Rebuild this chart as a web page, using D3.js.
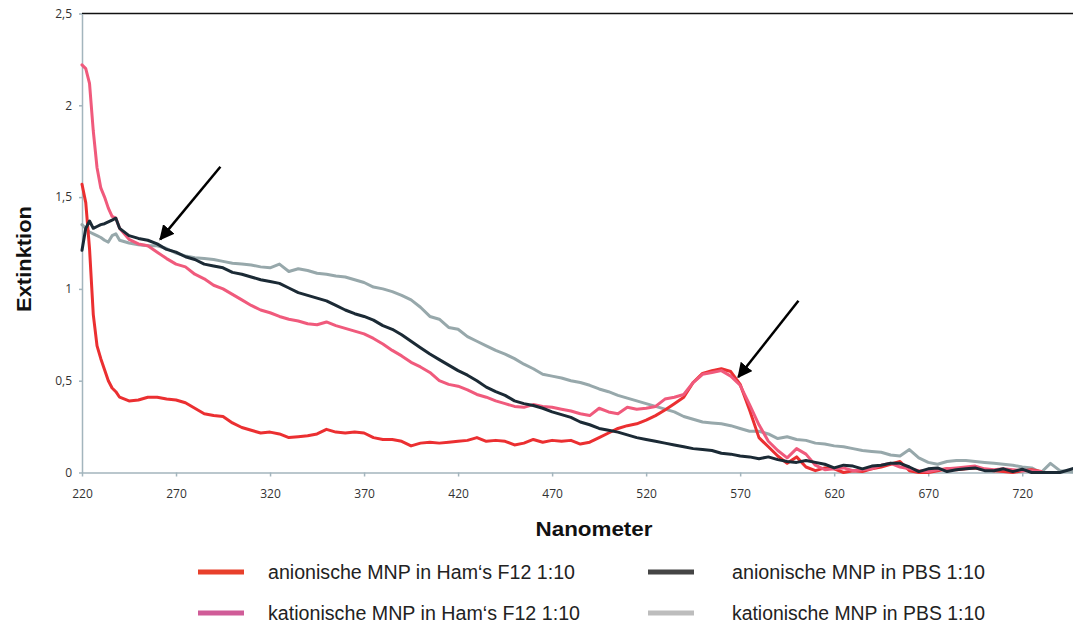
<!DOCTYPE html>
<html lang="de">
<head>
    <meta charset="utf-8">
    <title>Extinktion MNP</title>
    <script src="https://d3js.org/d3.v7.min.js"></script>
    <style>
        body{
            margin: 0;
            background-color: white;
        }
        svg{
            display: block;
        }
        .axis text{
            font-family: "Liberation Sans Narrow", "Open Sans", sans-serif;
            font-size: 12px;
            fill: #333;
        }
        .axis path, .axis line{
            stroke: #a3b5bd;
            stroke-width: 1.5;
        }
        .legend text{
            font-family: "Liberation Sans", Arial, sans-serif;
            font-size: 20px;
            fill: #222;
        }
    </style>
</head>
<body>
<div id="chart"></div>
<script>

// wavelengths in nm (denser at the start where the curves drop fast)
var wavelengths = [220, 222, 224, 226, 228, 230, 232, 234, 236, 238, 240,
    245, 250, 255, 260, 265, 270, 275, 280, 285, 290, 295, 300,
    305, 310, 315, 320, 325, 330, 335, 340, 345, 350, 355, 360, 365, 370, 375, 380, 385, 390, 395, 400,
    405, 410, 415, 420, 425, 430, 435, 440, 445, 450, 455, 460, 465, 470, 475, 480, 485, 490, 495, 500,
    505, 510, 515, 520, 525, 530, 535, 540, 545, 550, 555, 560, 565, 570, 575, 580, 585, 590, 595, 600,
    605, 610, 615, 620, 625, 630, 635, 640, 645, 650, 655, 660, 665, 670, 675, 680, 685, 690, 695, 700,
    705, 710, 715, 720, 725, 730, 735, 740, 745, 750];

// anionische MNP in Ham's F12 1:10
var anionHam = [1.57, 1.47, 1.22, 0.86, 0.69, 0.62, 0.56, 0.50, 0.46, 0.44, 0.41,
    0.39, 0.395, 0.41, 0.41, 0.40, 0.395, 0.38, 0.35, 0.32, 0.31, 0.305, 0.27,
    0.245, 0.23, 0.215, 0.22, 0.21, 0.19, 0.195, 0.20, 0.21, 0.235, 0.22, 0.215, 0.22, 0.215, 0.19, 0.18, 0.18, 0.17, 0.145, 0.16,
    0.165, 0.16, 0.165, 0.17, 0.175, 0.19, 0.17, 0.175, 0.17, 0.15, 0.16, 0.18, 0.165, 0.175, 0.17, 0.175, 0.155, 0.165, 0.19, 0.215,
    0.24, 0.255, 0.265, 0.285, 0.31, 0.34, 0.375, 0.41, 0.49, 0.54, 0.555, 0.565, 0.55, 0.48, 0.34, 0.19, 0.14, 0.09, 0.05, 0.085,
    0.03, 0.01, 0.025, 0.02, 0.0, 0.01, 0.005, 0.02, 0.03, 0.045, 0.06, 0.01, 0.0, 0.0, 0.01, 0.02, 0.015, 0.02, 0.025, 0.015,
    0.01, 0.005, 0.0, 0.01, 0.015, 0.005, null, null, null, null];

// kationische MNP in Ham's F12 1:10
var kationHam = [2.22, 2.20, 2.12, 1.86, 1.66, 1.55, 1.50, 1.44, 1.395, 1.385, 1.33,
    1.27, 1.245, 1.235, 1.20, 1.165, 1.135, 1.12, 1.08, 1.055, 1.02, 1.0, 0.97,
    0.94, 0.91, 0.885, 0.87, 0.85, 0.835, 0.825, 0.81, 0.805, 0.82, 0.80, 0.785, 0.77, 0.755, 0.73, 0.70, 0.665, 0.635, 0.60, 0.575,
    0.545, 0.50, 0.48, 0.47, 0.45, 0.425, 0.41, 0.39, 0.375, 0.36, 0.355, 0.37, 0.36, 0.355, 0.345, 0.335, 0.32, 0.31, 0.35, 0.33,
    0.32, 0.355, 0.345, 0.35, 0.36, 0.40, 0.41, 0.425, 0.49, 0.535, 0.545, 0.555, 0.525, 0.475, 0.37, 0.26, 0.17, 0.12, 0.08, 0.13,
    0.10, 0.04, 0.015, 0.02, 0.025, 0.01, 0.015, 0.02, 0.04, 0.05, 0.03, 0.02, 0.01, 0.005, 0.015, 0.02, 0.025, 0.03, 0.035, 0.02,
    0.015, 0.02, 0.015, 0.01, 0.01, 0.005, null, null, null, null];

// anionische MNP in PBS 1:10
var anionPbs = [1.21, 1.33, 1.37, 1.33, 1.34, 1.35, 1.355, 1.365, 1.375, 1.385, 1.33,
    1.29, 1.275, 1.265, 1.245, 1.215, 1.20, 1.175, 1.16, 1.135, 1.125, 1.115, 1.09,
    1.08, 1.065, 1.05, 1.04, 1.03, 1.005, 0.98, 0.965, 0.95, 0.935, 0.91, 0.885, 0.865, 0.85, 0.83, 0.80, 0.78, 0.75, 0.715, 0.68,
    0.645, 0.615, 0.585, 0.555, 0.53, 0.50, 0.465, 0.44, 0.42, 0.39, 0.375, 0.365, 0.35, 0.33, 0.315, 0.30, 0.275, 0.26, 0.24, 0.23,
    0.22, 0.205, 0.19, 0.18, 0.17, 0.16, 0.15, 0.14, 0.13, 0.125, 0.12, 0.105, 0.10, 0.09, 0.085, 0.075, 0.085, 0.07, 0.06, 0.055,
    0.065, 0.055, 0.045, 0.025, 0.04, 0.035, 0.02, 0.035, 0.04, 0.05, 0.05, 0.03, 0.005, 0.02, 0.025, 0.005, 0.015, 0.02, 0.025, 0.01,
    0.01, 0.02, 0.005, 0.018, 0.0, 0.0, 0.0, 0.0, 0.015, 0.03];

// kationische MNP in PBS 1:10
var kationPbs = [1.35, 1.33, 1.31, 1.30, 1.29, 1.28, 1.265, 1.255, 1.29, 1.30, 1.265,
    1.25, 1.24, 1.235, 1.235, 1.22, 1.195, 1.18, 1.17, 1.165, 1.16, 1.15, 1.14,
    1.135, 1.13, 1.12, 1.115, 1.135, 1.095, 1.11, 1.10, 1.085, 1.08, 1.07, 1.065, 1.05, 1.035, 1.01, 1.0, 0.985, 0.965, 0.94, 0.90,
    0.85, 0.835, 0.79, 0.78, 0.74, 0.715, 0.69, 0.665, 0.645, 0.62, 0.59, 0.565, 0.535, 0.525, 0.515, 0.50, 0.49, 0.475, 0.455, 0.44,
    0.42, 0.405, 0.39, 0.375, 0.36, 0.345, 0.33, 0.305, 0.29, 0.275, 0.27, 0.265, 0.255, 0.24, 0.225, 0.225, 0.21, 0.185, 0.195, 0.18,
    0.175, 0.16, 0.155, 0.145, 0.14, 0.13, 0.12, 0.115, 0.11, 0.095, 0.09, 0.125, 0.08, 0.055, 0.045, 0.06, 0.065, 0.065, 0.06, 0.055,
    0.05, 0.045, 0.04, 0.03, 0.025, 0.0, 0.05, 0.01, 0.005, 0.0];

var xTicks = [220, 270, 320, 370, 420, 470, 520, 570, 620, 670, 720];
var yTicks = [0, 0.5, 1, 1.5, 2, 2.5];
var yTickLabels = ["0", "0,5", "1", "1,5", "2", "2,5"];

var legendLabels = ["anionische MNP in Ham\u2018s F12 1:10", "kationische MNP in Ham\u2018s F12 1:10",
    "anionische MNP in PBS 1:10", "kationische MNP in PBS 1:10"];

// arrows: [tail nm, tail value, tip nm, tip value]
var arrows = [[293.6, 1.665, 261.6, 1.27], [601, 0.935, 569, 0.52]];


var width = 1073
var height = 626

var svg = d3.select("#chart")
  .append("svg")
    .attr("width", width)
    .attr("height", height)

var x = d3.scaleLinear()
    .domain([220, 747])
    .range([82, 1073])

var y = d3.scaleLinear()
    .domain([0, 2.5])
    .range([472.5, 13.5])

// series: values, line colour, legend colour, legend position
var series = [
    {name: legendLabels[3], values: kationPbs, color: "#97a8ab", swatch: "#bdbdbd", col: 1, row: 1},
    {name: legendLabels[0], values: anionHam, color: "#eb2f31", swatch: "#e8402b", col: 0, row: 0},
    {name: legendLabels[1], values: kationHam, color: "#f05a7c", swatch: "#d05c98", col: 0, row: 1},
    {name: legendLabels[2], values: anionPbs, color: "#1b2a35", swatch: "#454545", col: 1, row: 0}
]

// top frame line
svg.append("line")
    .attr("x1", x.range()[0])
    .attr("x2", x.range()[1])
    .attr("y1", y(2.5))
    .attr("y2", y(2.5))
    .attr("stroke", "#111")
    .attr("stroke-width", 1.5)

// axes
svg.append("g")
    .attr("class", "axis")
    .attr("transform", "translate(0," + y(0) + ")")
    .call(d3.axisBottom(x).tickValues(xTicks).tickSize(4).tickSizeOuter(0).tickPadding(13))

svg.append("g")
    .attr("class", "axis")
    .attr("transform", "translate(" + x(220) + ",0)")
    .call(d3.axisLeft(y).tickValues(yTicks).tickSize(3).tickSizeOuter(0).tickPadding(7)
        .tickFormat((d, i) => yTickLabels[i]))

// curves
var line = d3.line()
    .defined(d => d[1] !== null)
    .x(d => x(d[0]))
    .y(d => y(d[1]))

svg.append("g")
    .selectAll("path.curve")
    .data(series)
    .enter()
    .append("path")
        .attr("class", "curve")
        .attr("d", d => line(wavelengths.map((w, i) => [w, d.values[i]])))
        .attr("fill", "none")
        .attr("stroke", d => d.color)
        .attr("stroke-width", 3)
        .attr("stroke-linejoin", "round")
        .attr("stroke-linecap", "round")

// arrows
svg.append("defs").append("marker")
    .attr("id", "head")
    .attr("viewBox", "0 0 10 10")
    .attr("refX", 9)
    .attr("refY", 5)
    .attr("markerWidth", 6)
    .attr("markerHeight", 6)
    .attr("markerUnits", "strokeWidth")
    .attr("orient", "auto")
  .append("path")
    .attr("d", "M0,0 L10,5 L0,10 Z")
    .attr("fill", "#000")

svg.append("g")
    .selectAll("line")
    .data(arrows)
    .enter()
    .append("line")
        .attr("x1", d => x(d[0]))
        .attr("y1", d => y(d[1]))
        .attr("x2", d => x(d[2]))
        .attr("y2", d => y(d[3]))
        .attr("stroke", "#000")
        .attr("stroke-width", 2.5)
        .attr("marker-end", "url(#head)")

// axis titles
svg.append("text")
    .attr("x", 594)
    .attr("y", 536)
    .attr("text-anchor", "middle")
    .attr("textLength", 117)
    .attr("lengthAdjust", "spacingAndGlyphs")
    .style("font-family", "Liberation Sans, Arial, sans-serif")
    .style("font-weight", "bold")
    .style("font-size", "20px")
    .style("fill", "#111")
    .text("Nanometer")

svg.append("text")
    .attr("transform", "translate(31,259) rotate(-90)")
    .attr("text-anchor", "middle")
    .attr("textLength", 106)
    .attr("lengthAdjust", "spacingAndGlyphs")
    .style("font-family", "Liberation Sans, Arial, sans-serif")
    .style("font-weight", "bold")
    .style("font-size", "21px")
    .style("fill", "#111")
    .text("Extinktion")

// legend
var legend = svg.append("g")
    .attr("class", "legend")
    .selectAll("g")
    .data(series)
    .enter()
    .append("g")
        .attr("transform", d => "translate(" + (d.col ? 648 : 198) + "," + (d.row ? 613 : 572) + ")")

legend.append("line")
    .attr("x1", 0)
    .attr("x2", 46)
    .attr("stroke", d => d.swatch)
    .attr("stroke-width", 5)

legend.append("text")
    .attr("x", d => d.col ? 84 : 70)
    .attr("y", 7)
    .attr("textLength", d => d.col ? 253 : (d.row ? 312 : 307))
    .attr("lengthAdjust", "spacingAndGlyphs")
    .text(d => d.name)

</script>
</body>
</html>
